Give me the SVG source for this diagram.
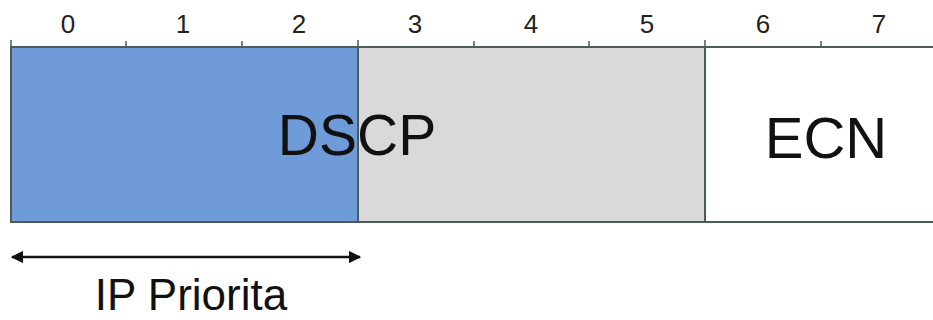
<svg xmlns="http://www.w3.org/2000/svg" width="933" height="320" viewBox="0 0 933 320">
  <style>
    .num { font-family: "Liberation Sans", Arial, sans-serif; font-size: 26px; fill: #222; text-anchor: middle; }
    .big { font-family: "Liberation Sans", Arial, sans-serif; fill: #111; text-anchor: middle; }
    .edge { stroke: #4c5c56; stroke-width: 2; fill: none; }
    .tick { stroke: #4c5c56; stroke-width: 1.5; }
  </style>
  <defs>
    <marker id="head" viewBox="0 0 10 10" refX="9" refY="5" markerWidth="5" markerHeight="5" orient="auto-start-reverse" markerUnits="strokeWidth">
      <path d="M0,0 L10,5 L0,10 z" fill="#111"/>
    </marker>
  </defs>
  <rect width="933" height="320" fill="#fff"/>

  <!-- bit numbers -->
  <g id="bit-numbers">
    <text class="num" x="68" y="33">0</text>
    <text class="num" x="183" y="33">1</text>
    <text class="num" x="299" y="33">2</text>
    <text class="num" x="415" y="33">3</text>
    <text class="num" x="531" y="33">4</text>
    <text class="num" x="647" y="33">5</text>
    <text class="num" x="763" y="33">6</text>
    <text class="num" x="879" y="33">7</text>
  </g>

  <!-- fields -->
  <g id="dscp-high">
    <rect x="11" y="47" width="347" height="175" fill="#6f9bd8"/>
  </g>
  <g id="dscp-low">
    <rect x="358" y="47" width="347" height="175" fill="#d9d9d9"/>
  </g>
  <g id="ecn">
    <rect x="705" y="47" width="228" height="175" fill="#fff"/>
    <text class="big" x="826" y="158" font-size="58">ECN</text>
  </g>
  <g id="dscp-label">
    <text class="big" x="357" y="155" font-size="57">DSCP</text>
  </g>

  <!-- outline and bit ticks -->
  <g id="frame">
    <path class="edge" d="M933,47 H11 V222 H933"/>
    <path class="edge" d="M358,47 V222 M705,47 V222"/>
    <path class="tick" d="M11,40 V47 M126,41 V47 M242,41 V47 M358,40 V47 M474,41 V47 M589,41 V47 M705,40 V47 M821,41 V47"/>
  </g>

  <!-- range arrow -->
  <g id="connectors">
    <line x1="12" y1="257" x2="360" y2="257" stroke="#111" stroke-width="2.5" marker-start="url(#head)" marker-end="url(#head)"/>
  </g>
  <g id="ip-priority">
    <text class="big" x="191" y="310" font-size="44">IP Priorita</text>
  </g>
</svg>
